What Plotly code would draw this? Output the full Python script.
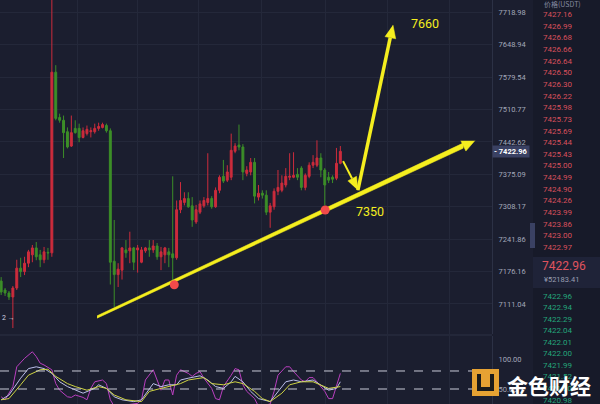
import math
import plotly.graph_objects as go

# hourly candles, oldest first (red = up, green = down)
opens = [7157, 7139, 7133, 7125, 7143, 7183, 7176, 7193, 7210, 7224, 7210, 7200, 7215, 7214, 7590,
         7494, 7488, 7464, 7434, 7471, 7471, 7452, 7460, 7464, 7464, 7471, 7473, 7477, 7466, 7197,
         7170, 7179, 7220, 7218, 7224, 7220, 7195, 7218, 7224, 7220, 7228, 7206, 7210, 7216, 7212,
         7204, 7302, 7317, 7325, 7310, 7277, 7297, 7310, 7317, 7325, 7308, 7342, 7371, 7363, 7369,
         7423, 7436, 7432, 7377, 7380, 7400, 7328, 7336, 7332, 7297, 7308, 7340, 7342, 7353, 7369,
         7369, 7375, 7388, 7348, 7371, 7394, 7394, 7409, 7384, 7369, 7369, 7367, 7398]
highs = [7165, 7143, 7137, 7147, 7200, 7204, 7206, 7220, 7230, 7236, 7220, 7226, 7224, 7746, 7605,
         7502, 7498, 7473, 7498, 7488, 7481, 7473, 7477, 7473, 7481, 7483, 7483, 7481, 7471, 7281,
         7193, 7226, 7240, 7257, 7226, 7230, 7226, 7226, 7240, 7240, 7234, 7226, 7226, 7224, 7371,
         7321, 7359, 7338, 7338, 7328, 7312, 7321, 7328, 7419, 7330, 7348, 7373, 7405, 7394, 7460,
         7440, 7479, 7438, 7392, 7409, 7409, 7353, 7342, 7342, 7316, 7346, 7384, 7373, 7388, 7419,
         7421, 7388, 7392, 7377, 7400, 7415, 7446, 7419, 7388, 7380, 7373, 7430, 7434]
lows = [7129, 7127, 7119, 7063, 7139, 7165, 7169, 7185, 7195, 7199, 7185, 7193, 7200, 7206, 7488,
        7483, 7409, 7429, 7432, 7460, 7442, 7450, 7456, 7452, 7460, 7466, 7471, 7462, 7150, 7105,
        7145, 7160, 7204, 7193, 7179, 7174, 7193, 7214, 7206, 7214, 7200, 7179, 7193, 7185, 7154,
        7200, 7295, 7311, 7306, 7267, 7273, 7293, 7306, 7311, 7304, 7306, 7336, 7357, 7359, 7363,
        7419, 7425, 7363, 7371, 7373, 7315, 7321, 7325, 7291, 7265, 7302, 7332, 7338, 7348, 7363,
        7367, 7363, 7342, 7342, 7367, 7388, 7390, 7369, 7311, 7357, 7357, 7363, 7396]
closes = [7135, 7133, 7125, 7143, 7183, 7176, 7193, 7216, 7224, 7206, 7200, 7216, 7214, 7590, 7492,
          7488, 7462, 7432, 7462, 7462, 7452, 7466, 7469, 7466, 7471, 7475, 7479, 7466, 7195, 7170,
          7181, 7224, 7214, 7224, 7195, 7224, 7220, 7224, 7220, 7228, 7206, 7216, 7224, 7210, 7204,
          7302, 7321, 7325, 7308, 7281, 7302, 7314, 7321, 7325, 7308, 7342, 7369, 7361, 7380, 7425,
          7434, 7432, 7380, 7384, 7400, 7330, 7336, 7332, 7297, 7310, 7340, 7348, 7357, 7371, 7371,
          7373, 7369, 7348, 7373, 7394, 7400, 7409, 7384, 7353, 7363, 7365, 7398, 7422.96]

price_ticks = [7718.98, 7648.94, 7579.54, 7510.77, 7442.62, 7375.09, 7308.17, 7241.86, 7176.16, 7111.04]
grid_idx = [19.5, 34.9, 50.5, 66.9, 83.1, 99.0, 114.9]

# KDJ panel
j_idx = [0, 1, 3, 4, 6, 8, 9, 10, 11, 13, 14, 15, 17, 18, 19, 21, 22, 23, 24, 26, 27, 28, 29, 32, 35,
         36, 37, 39, 40, 41, 42, 43, 44, 45, 46, 48, 49, 50, 51, 52, 54, 55, 56, 57, 59, 60, 61, 62,
         63, 65, 66, 69, 70, 71, 73, 74, 75, 77, 78, 79, 80, 81, 83, 84, 85, 86, 87]
j_val = [37, 32, 54, 87, 101, 112, 104, 93, 90, 82, 59, 48, 37, 36, 40, 36, 32, 51, 62, 65, 59, 32, 21, 23, 26,
         32, 65, 82, 65, 48, 65, 65, 40, 73, 82, 76, 71, 76, 79, 68, 51, 34, 32, 54, 73, 84, 82, 57,
         46, 34, 21, 25, 46, 73, 87, 87, 79, 65, 62, 69, 69, 62, 46, 34, 34, 57, 76]
k_idx = [0, 2, 5, 7, 9, 11, 13, 15, 17, 19, 21, 24, 25, 27, 29, 31, 34, 36, 38, 39, 41, 43, 45, 46, 48,
         51, 53, 55, 57, 59, 60, 62, 64, 66, 69, 71, 73, 75, 77, 80, 82, 84, 86, 87]
k_val = [32, 40, 68, 84, 87, 84, 76, 62, 54, 48, 43, 51, 57, 51, 37, 32, 29, 32, 51, 59, 54, 57, 57, 65, 68,
         72, 65, 54, 51, 62, 71, 62, 46, 34, 29, 46, 62, 65, 62, 65, 57, 48, 51, 62]
d_idx = [0, 2, 5, 7, 10, 12, 14, 17, 19, 22, 25, 27, 29, 32, 36, 38, 41, 43, 46, 48, 52, 54, 57, 60, 62,
         65, 67, 69, 72, 74, 77, 80, 82, 84, 87]
d_val = [32, 34, 57, 73, 82, 83, 71, 59, 54, 48, 54, 51, 40, 32, 29, 46, 51, 54, 59, 65, 69, 59, 57, 62, 59,
         46, 34, 29, 43, 57, 62, 62, 57, 51, 54]

# order book
ask_prices = ["7427.16", "7426.99", "7426.68", "7426.66", "7426.64", "7426.50", "7426.30", "7426.22",
              "7425.98", "7425.73", "7425.69", "7425.44", "7425.43", "7425.00", "7424.99", "7424.90",
              "7424.26", "7423.99", "7423.86", "7423.00", "7422.97"]
bid_prices = ["7422.96", "7422.94", "7422.29", "7422.04", "7422.01", "7422.00", "7421.99", "7421.52",
              "7421.30", "7420.98"]
last_price = "7422.96"
last_cny = "¥52183.41"

# hand drawn analysis (candle index, price)
trend_idx = [24.6, 118.5, 118.5, 24.6]
trend_px = [7087.3, 7440.1, 7429.3, 7082.7]
trend_head_idx = [121.5, 119.2, 117.9]
trend_head_px = [7445.3, 7423.5, 7445.1]
up_idx = [91.5, 99.8]
up_px = [7342.1, 7664.0]
up_head_idx = [100.5, 101.2, 98.4]
up_head_px = [7691.5, 7661.6, 7666.4]
down_idx = [87.7, 90.0]
down_px = [7402.5, 7366.3]
down_head_idx = [91.5, 91.15, 88.9]
down_head_px = [7342.1, 7371.0, 7361.5]
dot_idx = [44.4, 83.1]
dot_px = [7149.5, 7301.5]

BG = "#1b1e2f"
PANEL = "#171a29"
GRID = "#24283a"
RED = "#cc2c3c"
GREEN = "#3c8e28"
YEL = "#f5ee1f"
W, H = 600, 404


def px(x):
    return x / W


def py(y):
    return 1 - y / H


fig = go.Figure()
fig.add_trace(go.Candlestick(
    x=list(range(len(closes))), open=opens, high=highs, low=lows, close=closes,
    increasing=dict(line=dict(color=RED, width=1), fillcolor=RED),
    decreasing=dict(line=dict(color=GREEN, width=1), fillcolor=GREEN),
    whiskerwidth=0, hoverinfo="skip"))

def poly(xs, ys):
    fig.add_trace(go.Scatter(x=xs, y=ys, fill="toself", fillcolor=YEL, mode="lines",
                             line=dict(color=YEL, width=0.5), hoverinfo="skip"))

poly(trend_idx, trend_px)
poly(trend_head_idx, trend_head_px)
fig.add_trace(go.Scatter(x=up_idx, y=up_px, mode="lines", line=dict(color=YEL, width=3.5), hoverinfo="skip"))
poly(up_head_idx, up_head_px)
fig.add_trace(go.Scatter(x=down_idx, y=down_px, mode="lines", line=dict(color=YEL, width=2), hoverinfo="skip"))
poly(down_head_idx, down_head_px)
fig.add_trace(go.Scatter(x=dot_idx, y=dot_px, mode="markers",
                         marker=dict(color="#f24a4a", size=9), hoverinfo="skip"))

for xs, ys, c in [(j_idx, j_val, "#b93fbf"), (k_idx, k_val, "#bcc0ea"), (d_idx, d_val, "#cfd443")]:
    fig.add_trace(go.Scatter(x=xs, y=ys, mode="lines", line=dict(color=c, width=1),
                             xaxis="x2", yaxis="y2", hoverinfo="skip"))

tickfont = dict(family="Roboto", size=7.5, color="#a3a8ba")
fig.update_layout(
    width=W, height=H, margin=dict(l=0, r=0, t=0, b=0),
    paper_bgcolor=BG, plot_bgcolor=BG, showlegend=False,
    xaxis=dict(domain=[0, px(492)], range=[-0.3, 125.9], tickvals=grid_idx, showticklabels=False,
               showgrid=True, gridcolor=GRID, zeroline=False, rangeslider=dict(visible=False)),
    yaxis=dict(type="log", domain=[py(334), 1], range=[math.log10(7051.2), math.log10(7745.7)],
               side="right", tickvals=price_ticks, ticktext=["%.2f" % v for v in price_ticks],
               tickfont=tickfont, showgrid=True, gridcolor=GRID, showline=True, linecolor="#2c3145",
               ticks="", ticklabelstandoff=4),
    xaxis2=dict(domain=[0, px(492)], anchor="y2", matches="x", tickvals=grid_idx, showticklabels=False,
                showgrid=True, gridcolor=GRID, zeroline=False),
    yaxis2=dict(domain=[0, py(336)], range=[25, 138.3], side="right", tickvals=[50, 100],
                ticktext=["50.00", "100.00"], tickfont=tickfont, showgrid=False, zeroline=False,
                showline=True, linecolor="#2c3145", ticks="", ticklabelstandoff=4),
)

shapes = [
    dict(type="rect", xref="paper", yref="paper", x0=px(533), x1=1, y0=0, y1=1,
         fillcolor=PANEL, line=dict(width=0)),
    dict(type="rect", xref="paper", yref="paper", x0=px(533), x1=1, y0=py(288), y1=py(257),
         fillcolor="#1f2338", line=dict(width=0)),
    dict(type="rect", xref="paper", yref="paper", x0=px(530), x1=px(535), y0=py(248), y1=py(223),
         fillcolor="#3a4163", line=dict(width=0)),
    dict(type="line", xref="paper", yref="paper", x0=0, x1=px(492), y0=py(335), y1=py(335),
         line=dict(color="#2c3145", width=1)),
    dict(type="line", xref="x2 domain", yref="y2", x0=0, x1=1, y0=80, y1=80,
         line=dict(color="#c9cad8", width=1, dash="dash")),
    dict(type="line", xref="x2 domain", yref="y2", x0=0, x1=1, y0=50, y1=50,
         line=dict(color="#c9cad8", width=1, dash="dash")),
    # watermark logo
    dict(type="rect", xref="paper", yref="paper", x0=px(472), x1=px(499), y0=py(396), y1=py(369),
         fillcolor="#e6a233", line=dict(width=0)),
    dict(type="rect", xref="paper", yref="paper", x0=px(477), x1=px(494), y0=py(391), y1=py(374),
         fillcolor="#1b1b1b", line=dict(width=0)),
    dict(type="rect", xref="paper", yref="paper", x0=px(481), x1=px(490), y0=py(387), y1=py(374),
         fillcolor="#e6a233", line=dict(width=0)),
]
fig.update_layout(shapes=shapes)


def label(x, y, text, size, color, family="Roboto", xanchor="left", **kw):
    return dict(x=px(x), y=py(y), xref="paper", yref="paper", xanchor=xanchor, yanchor="middle",
                text=text, showarrow=False, font=dict(family=family, size=size, color=color), **kw)


ann = []
ann.append(dict(x=px(492), y=math.log10(closes[-1]), xref="paper", yref="y", xanchor="left",
                yanchor="middle", text="<b>- " + last_price + "</b>", showarrow=False, bgcolor="#3a4163",
                font=dict(family="Roboto", size=7.5, color="#ffffff"), borderpad=1))
ann.append(label(542, 4, "价格(USDT)", 7, "#858aa0", family="Noto Sans CJK SC"))
for i, p in enumerate(ask_prices):
    ann.append(label(541, 14.5 + 11.65 * i, p, 8, "#d9505c"))
ann.append(label(540, 266, last_price, 12, "#e0535e"))
ann.append(label(542, 279, last_cny, 7.5, "#9a9fb2"))
for i, p in enumerate(bid_prices):
    ann.append(label(541, 296 + 11.56 * i, p, 8, "#24a57a"))
ann.append(label(425, 23, "7660", 12.5, YEL, xanchor="center"))
ann.append(label(369.5, 211, "7350", 12.5, YEL, xanchor="center"))
ann.append(label(0, 318, "2 →", 7, "#d0d3e0"))
ann.append(label(549, 385, "<b>金色财经</b>", 21, "#ffffff", family="Noto Sans CJK SC", xanchor="center"))
fig.update_layout(annotations=ann)

fig.write_html("out.html", config={"displayModeBar": False},
               post_script="document.body.style.margin='0';")
